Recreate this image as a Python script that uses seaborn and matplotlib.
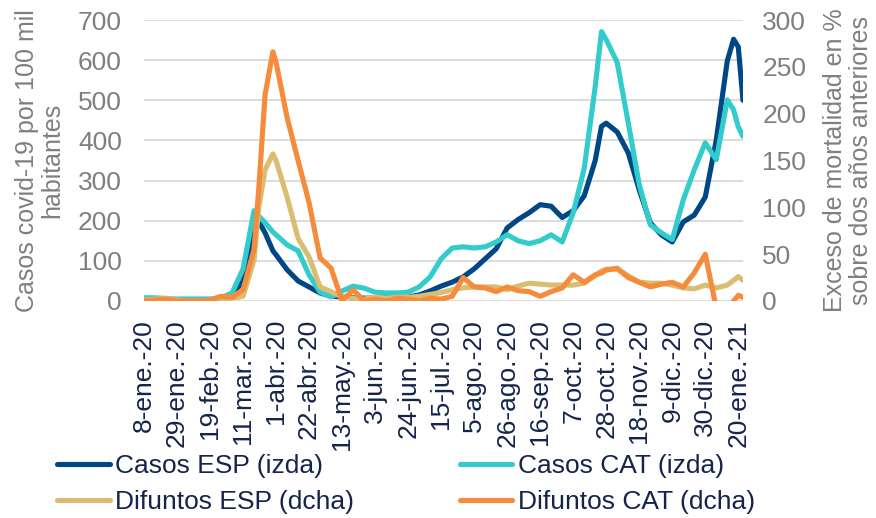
import matplotlib
matplotlib.use("Agg")
import matplotlib.pyplot as plt
import pandas as pd
import seaborn as sns

# ---------------- data ----------------
dates = [
    "2020-01-08", "2020-01-15", "2020-01-22", "2020-01-29", "2020-02-05", "2020-02-12",
    "2020-02-19", "2020-02-26", "2020-03-04", "2020-03-11", "2020-03-18", "2020-03-21",
    "2020-03-25", "2020-03-30", "2020-04-01", "2020-04-08", "2020-04-15", "2020-04-22",
    "2020-04-29", "2020-05-06", "2020-05-13", "2020-05-20", "2020-05-27", "2020-06-03",
    "2020-06-10", "2020-06-17", "2020-06-24", "2020-07-01", "2020-07-08", "2020-07-15",
    "2020-07-22", "2020-07-29", "2020-08-05", "2020-08-12", "2020-08-19", "2020-08-26",
    "2020-09-02", "2020-09-09", "2020-09-16", "2020-09-23", "2020-09-30", "2020-10-07",
    "2020-10-14", "2020-10-21", "2020-10-25", "2020-10-28", "2020-11-04", "2020-11-11",
    "2020-11-18", "2020-11-25", "2020-12-02", "2020-12-09", "2020-12-16", "2020-12-23",
    "2020-12-30", "2021-01-06", "2021-01-13", "2021-01-17", "2021-01-20", "2021-01-23",
]

casos_esp = [
    2, 2, 2, 2, 2, 2, 2, 3, 15, 50, 170, 198,
    170, 125, 115, 78, 50, 35, 20, 12, 10, 8, 7, 7,
    8, 8, 10, 15, 25, 37, 47, 60, 80, 105, 130, 182,
    203, 220, 240, 236, 208, 225, 262, 350, 435, 443, 421, 369,
    277, 195, 165, 147, 197, 214, 259, 401, 598, 652, 633, 500,
]

casos_cat = [
    8, 8, 6, 5, 5, 5, 5, 8, 20, 80, 225, 212,
    195, 172, 165, 140, 125, 65, 22, 10, 25, 37, 32, 22,
    20, 20, 22, 35, 60, 105, 132, 135, 132, 135, 147, 165,
    150, 143, 150, 165, 147, 220, 330, 534, 671, 651, 594, 444,
    290, 190, 170, 153, 252, 327, 394, 352, 501, 476, 434, 410,
]

difuntos_esp = [
    1, 2, 3, 1, 0, 0, 0, 2, 3, 5, 44, 100,
    140, 157, 150, 111, 67, 47, 15, 10, 4, 3, 2, 4,
    3, 4, 4, 5, 7, 9, 12, 14, 15, 15, 15, 12,
    16, 19, 18, 17, 17, 17, 19, 27, 32, 34, 34, 27,
    20, 19, 19, 17, 14, 13, 17, 14, 17, 22, 26, 22,
]

difuntos_cat = [
    0, 1, 2, 0, 0, 0, 1, 5, 4, 12, 55, 120,
    220, 266, 255, 196, 150, 105, 46, 35, 0, 12, 0, 2,
    0, 3, 2, 0, 3, 2, 5, 25, 15, 14, 10, 15,
    11, 10, 5, 10, 14, 28, 20, 28, 30, 33, 35, 25,
    20, 15, 18, 20, 15, 30, 50, -8, -10, 0, 6, 4,
]

series_labels = ["Casos ESP (izda)", "Casos CAT (izda)",
                 "Difuntos ESP (dcha)", "Difuntos CAT (dcha)"]

tick_dates = ["2020-01-08", "2020-01-29", "2020-02-19", "2020-03-11", "2020-04-01",
              "2020-04-22", "2020-05-13", "2020-06-03", "2020-06-24", "2020-07-15",
              "2020-08-05", "2020-08-26", "2020-09-16", "2020-10-07", "2020-10-28",
              "2020-11-18", "2020-12-09", "2020-12-30", "2021-01-20"]
tick_labels = ["8-ene.-20", "29-ene.-20", "19-feb.-20", "11-mar.-20", "1-abr.-20",
               "22-abr.-20", "13-may.-20", "3-jun.-20", "24-jun.-20", "15-jul.-20",
               "5-ago.-20", "26-ago.-20", "16-sep.-20", "7-oct.-20", "28-oct.-20",
               "18-nov.-20", "9-dic.-20", "30-dic.-20", "20-ene.-21"]

left_label = "Casos covid-19 por 100 mil\nhabitantes"
right_label = "Exceso de mortalidad en %\nsobre dos años anteriores"

# ---------------- styling ----------------
sns.set_theme(style="white")
plt.rcParams["font.family"] = ["Liberation Sans", "DejaVu Sans"]

NAVY = "#004785"
CYAN = "#33CCCC"
GOLD = "#D9BD72"
ORANGE = "#F68B3C"
GRAY = "#7F7F7F"
DARK = "#14244A"
FS = 19
LW = 3.7

df = pd.DataFrame({
    "fecha": pd.to_datetime(dates),
    "casos_esp": casos_esp,
    "casos_cat": casos_cat,
    "difuntos_esp": difuntos_esp,
    "difuntos_cat": difuntos_cat,
})

fig = plt.figure(figsize=(8.76, 5.18), dpi=100)
W, H = 876, 518
ax = fig.add_axes([144 / W, 1 - 301 / H, (743 - 144) / W, (301 - 20) / H])
ax2 = ax.twinx()

line_kw = dict(linewidth=LW, solid_joinstyle="round", solid_capstyle="round")
sns.lineplot(data=df, x="fecha", y="casos_esp", ax=ax, color=NAVY,
             label=series_labels[0], **line_kw)
sns.lineplot(data=df, x="fecha", y="casos_cat", ax=ax, color=CYAN,
             label=series_labels[1], **line_kw)
sns.lineplot(data=df, x="fecha", y="difuntos_esp", ax=ax2, color=GOLD,
             label=series_labels[2], **line_kw)
sns.lineplot(data=df, x="fecha", y="difuntos_cat", ax=ax2, color=ORANGE,
             label=series_labels[3], **line_kw)

for a in (ax, ax2):
    if a.get_legend() is not None:
        a.get_legend().remove()
    for s in a.spines.values():
        s.set_visible(False)

ax.set_ylim(0, 700)
ax2.set_ylim(0, 300)
ax.set_yticks(range(0, 701, 100))
ax2.set_yticks(range(0, 301, 50))
ax.set_xlim(pd.Timestamp("2020-01-08"), pd.Timestamp("2021-01-23"))

ax.yaxis.grid(True, color="#D9D9D9", linewidth=1.3)
ax.xaxis.grid(False)
ax2.grid(False)
ax.set_axisbelow(True)

ax.set_xticks(pd.to_datetime(tick_dates))
ax.set_xticklabels(tick_labels, rotation=90, color=DARK, fontsize=FS)
ax.tick_params(axis="x", length=0, pad=13)
ax.tick_params(axis="y", length=0, pad=16, labelsize=FS, labelcolor=GRAY)
ax2.tick_params(axis="y", length=0, pad=14, labelsize=FS, labelcolor=GRAY)

ax.set_xlabel("")
ax.set_ylabel(left_label, fontsize=18, color=GRAY, labelpad=10,
              multialignment="center", linespacing=1.05)
ax2.set_ylabel(right_label, fontsize=18, color=GRAY, labelpad=12,
               multialignment="center", linespacing=1.1)

h1, l1 = ax.get_legend_handles_labels()
h2, l2 = ax2.get_legend_handles_labels()
handles = [h1[0], h2[0], h1[1], h2[1]]
labels = [l1[0], l2[0], l1[1], l2[1]]
fig.legend(handles, labels, ncol=2, loc="upper left",
           bbox_to_anchor=(57 / W, 1 - 454 / H), frameon=False,
           fontsize=FS, labelcolor=DARK, handlelength=2.0, handletextpad=0.2,
           columnspacing=4.0, labelspacing=0.45, borderpad=0, borderaxespad=0)

fig.savefig("out.png", dpi=100)
